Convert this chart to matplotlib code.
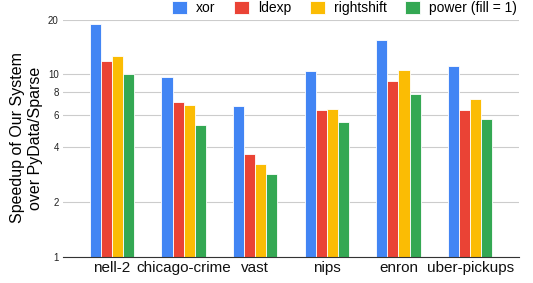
import matplotlib
matplotlib.use("Agg")
import matplotlib.pyplot as plt
import numpy as np
from matplotlib.ticker import FixedLocator, NullLocator, FixedFormatter

plt.rcParams['font.family'] = ['Liberation Sans', 'DejaVu Sans']

datasets = ["nell-2", "chicago-crime", "vast", "nips", "enron", "uber-pickups"]
series = ["xor", "ldexp", "rightshift", "power (fill = 1)"]
xor = [18.8, 9.63, 6.70, 10.4, 15.4, 11.1]
ldexp = [11.8, 7.02, 3.64, 6.35, 9.15, 6.35]
rightshift = [12.6, 6.78, 3.22, 6.48, 10.56, 7.35]
power = [10.0, 5.25, 2.83, 5.49, 7.83, 5.66]
colors = ["#4285F4", "#EA4335", "#FBBC04", "#34A853"]
yticks = [1, 2, 4, 6, 8, 10, 20]

fig = plt.figure(figsize=(5.33, 2.83), dpi=100)
ax = fig.add_axes([0.118, 0.0936, 0.856, 0.8374])

x = np.arange(len(datasets))
w = 0.154
vals = [xor, ldexp, rightshift, power]
for i, (name, v, c) in enumerate(zip(series, vals, colors)):
    ax.bar(x + (i - 1.5) * w, v, width=w, color=c,
           edgecolor="white", linewidth=0.6, label=name, zorder=3)

ax.set_yscale("log")
ax.set_ylim(1, 20)
ax.set_xlim(-0.684, 5.684)
ax.yaxis.set_major_locator(FixedLocator(yticks))
ax.yaxis.set_major_formatter(FixedFormatter([str(t) for t in yticks]))
ax.yaxis.set_minor_locator(NullLocator())
ax.grid(axis="y", color="#cccccc", linewidth=0.8, zorder=0)
for s in ["top", "right", "left"]:
    ax.spines[s].set_visible(False)
ax.spines["bottom"].set_color("#333333")
ax.spines["bottom"].set_linewidth(0.8)
ax.spines["bottom"].set_zorder(4)
ax.tick_params(axis="y", length=0, labelsize=7, pad=3, labelcolor="#222222")
ax.tick_params(axis="x", length=0, labelsize=11, pad=3, labelcolor="#111111")
ax.set_xticks(x)
ax.set_xticklabels(datasets)
ax.set_ylabel("Speedup of Our System\nover PyData/Sparse", fontsize=11.5,
              linespacing=1.2)
ax.yaxis.set_label_coords(-0.044, 0.5)

fig.legend(loc="upper right", bbox_to_anchor=(0.985, 1.025), ncol=4, frameon=False,
           fontsize=10, handlelength=1.05, handleheight=1.0, handletextpad=0.65,
           columnspacing=1.35, borderaxespad=0.2)

fig.savefig("out.png", dpi=100)
